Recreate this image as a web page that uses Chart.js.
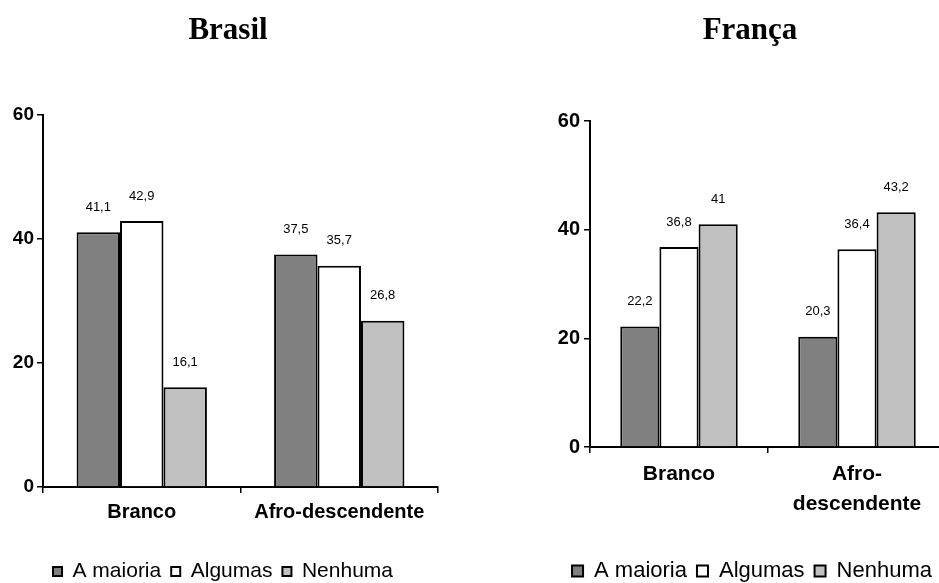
<!DOCTYPE html>
<html>
<head>
<meta charset="utf-8">
<script src="https://cdn.jsdelivr.net/npm/chart.js@4"></script>
<style>
  html, body { margin: 0; padding: 0; background: #fff; overflow: hidden; }
  body { width: 939px; height: 583px; position: relative; }
  canvas { position: absolute; top: 0; }
  #brasil { left: 0; }
  #franca { left: 540px; }
</style>
</head>
<body>
<canvas id="brasil" width="460" height="592"></canvas>
<canvas id="franca" width="420" height="592"></canvas>
<script>
const seriesNames = ["A maioria", "Algumas", "Nenhuma"];
const seriesColors = ["#808080", "#ffffff", "#c0c0c0"];

const brasilCategories = ["Branco", "Afro-descendente"];
const brasilMaioria = [41.1, 37.5];
const brasilAlgumas = [42.9, 35.7];
const brasilNenhuma = [16.1, 26.8];

const francaCategories = ["Branco", ["Afro-", "descendente"]];
const francaMaioria = [22.2, 20.3];
const francaAlgumas = [36.8, 36.4];
const francaNenhuma = [41, 43.2];

const yMin = 0, yMax = 60, yStep = 20;

const SANS = '"Liberation Sans", Arial, sans-serif';
const SERIF = '"Liberation Serif", "Times New Roman", serif';

Chart.defaults.color = "#000";

// values written above each bar, with a comma as decimal mark
const barValues = {
  id: "barValues",
  afterDatasetsDraw(chart) {
    const ctx = chart.ctx;
    ctx.save();
    ctx.font = "13px " + SANS;
    ctx.fillStyle = "#000";
    ctx.textAlign = "center";
    ctx.textBaseline = "middle";
    chart.data.datasets.forEach((ds, i) => {
      chart.getDatasetMeta(i).data.forEach((bar, j) => {
        ctx.fillText(String(ds.data[j]).replace(".", ","), bar.x, bar.y - 25);
      });
    });
    ctx.restore();
  }
};

// slide title / legend sideways after layout
const nudge = {
  id: "nudge",
  afterLayout(chart, args, opts) {
    const t = chart.titleBlock, l = chart.legend;
    if (t && opts.title) { t.left += opts.title; t.right += opts.title; }
    if (l && opts.legend) { l.left += opts.legend; l.right += opts.legend; }
  }
};

function makeChart(id, o) {
  const data = [o.maioria, o.algumas, o.nenhuma];
  new Chart(document.getElementById(id), {
    type: "bar",
    data: {
      labels: o.categories,
      datasets: seriesNames.map((name, i) => ({
        label: name,
        data: data[i],
        backgroundColor: seriesColors[i],
        borderColor: "#000",
        borderWidth: 2,
        categoryPercentage: 0.66,
        barPercentage: 1
      }))
    },
    options: {
      responsive: false,
      animation: false,
      devicePixelRatio: 1,
      layout: { padding: { left: o.padL, right: o.padR, top: 0, bottom: 0 } },
      plugins: {
        title: {
          display: true,
          text: o.title,
          font: { family: SERIF, size: 31, weight: "bold" },
          color: "#000",
          padding: { top: 12.4, bottom: o.titleGap }
        },
        legend: {
          position: "bottom",
          labels: {
            boxWidth: o.box,
            boxHeight: o.box,
            padding: 10,
            font: { family: SANS, size: o.legendSize },
            color: "#000"
          }
        },
        tooltip: { enabled: false },
        nudge: { title: o.titleDx, legend: o.legendDx }
      },
      scales: {
        x: {
          grid: { drawOnChartArea: false, drawTicks: true, tickLength: 6, color: "#000", lineWidth: 1.5, offset: true },
          border: { display: true, color: "#000", width: 2 },
          ticks: {
            font: { family: SANS, size: o.catSize, weight: "bold", lineHeight: o.catLine },
            color: "#000",
            padding: o.catPad,
            maxRotation: 0,
            autoSkip: false
          },
          afterFit: s => { s.height = o.xHeight; }
        },
        y: {
          min: yMin,
          max: yMax,
          grid: { drawOnChartArea: false, drawTicks: true, tickLength: 6, color: "#000", lineWidth: 1.5 },
          border: { display: true, color: "#000", width: 2 },
          ticks: {
            stepSize: yStep,
            font: { family: SANS, size: o.tickSize, weight: "bold" },
            color: "#000",
            padding: o.tickPad
          },
          afterFit: s => { s.width = o.yWidth; }
        }
      }
    },
    plugins: [barValues, nudge]
  });
}

makeChart("brasil", {
  title: "Brasil",
  categories: brasilCategories,
  maioria: brasilMaioria, algumas: brasilAlgumas, nenhuma: brasilNenhuma,
  padL: 0, padR: 22, yWidth: 43, xHeight: 64, titleGap: 65.4,
  titleDx: 9, legendDx: 4,
  box: 9, legendSize: 21, catSize: 20, catLine: 1.2, catPad: 7,
  tickSize: 19, tickPad: 3
});

makeChart("franca", {
  title: "França",
  categories: francaCategories,
  maioria: francaMaioria, algumas: francaAlgumas, nenhuma: francaNenhuma,
  padL: 14, padR: 14, yWidth: 36, xHeight: 103, titleGap: 71.4,
  titleDx: 0, legendDx: 2,
  box: 11, legendSize: 22, catSize: 21, catLine: 1.43, catPad: 6,
  tickSize: 20, tickPad: 4
});
</script>
</body>
</html>
